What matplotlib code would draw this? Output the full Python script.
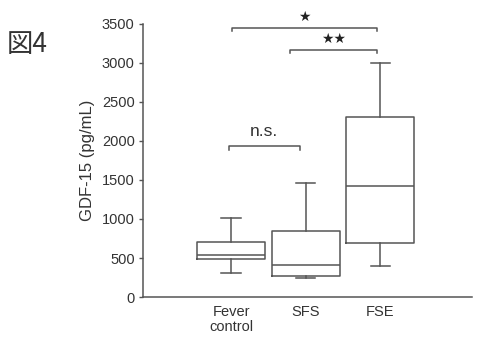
import matplotlib
matplotlib.use("Agg")
import matplotlib.pyplot as plt

# ---------- data ----------
groups = ["Fever\ncontrol", "SFS", "FSE"]
whislo = [310, 245, 400]
q1 = [487, 270, 692]
med = [538, 410, 1423]
q3 = [705, 846, 2308]
whishi = [1013, 1462, 3000]
yticks = [0, 500, 1000, 1500, 2000, 2500, 3000, 3500]

# significance brackets: (x_start, x_end, y, label)
brackets = [(0.97, 1.92, 1936, "n.s."), (1.79, 2.96, 3167, "★★"), (1.01, 2.96, 3449, "★")]
# --------------------------

LINE = "#555555"
TXT = "#333333"
plt.rcParams['font.family'] = ['Liberation Sans', 'DejaVu Sans']

fig = plt.figure(figsize=(4.89, 3.38), dpi=100)
ax = fig.add_axes([0.2924, 0.1213, 0.6728, 0.8077])

stats = []
for i in range(len(groups)):
    stats.append(dict(whislo=whislo[i], q1=q1[i], med=med[i], q3=q3[i], whishi=whishi[i], fliers=[]))

lp = dict(color=LINE, linewidth=1.1)
ax.bxp(stats, positions=[1, 2, 3], widths=0.91, capwidths=0.26, showfliers=False,
       boxprops=lp, medianprops=lp, whiskerprops=lp, capprops=lp)

ax.set_xlim(-0.18, 4.23)
ax.set_ylim(0, 3500)
ax.set_yticks(yticks)
ax.set_xticks([1, 2, 3])
ax.set_xticklabels(groups, fontsize=10.5, color=TXT, linespacing=1.1)
ax.tick_params(axis='x', length=0, pad=6)
ax.tick_params(axis='y', length=3, width=1, color=LINE, labelsize=10.5, labelcolor=TXT, pad=3)
ax.set_ylabel("GDF-15 (pg/mL)", fontsize=12, color=TXT, labelpad=5)

for s in ["top", "right"]:
    ax.spines[s].set_visible(False)
for s in ["left", "bottom"]:
    ax.spines[s].set_color(LINE)
    ax.spines[s].set_linewidth(1.1)

for x0, x1, y, lab in brackets:
    ax.plot([x0, x0, x1, x1], [y - 45, y, y, y - 45], color=LINE, lw=1.1, clip_on=False)
    if lab == "n.s.":
        ax.text((x0 + x1) / 2, y + 90, lab, ha='center', va='bottom', fontsize=12.5, color=TXT)
    else:
        ax.text((x0 + x1) / 2, y + 50, lab, ha='center', va='bottom', fontsize=10, color="#222222",
                family='DejaVu Sans', clip_on=False)

fig.text(0.014, 0.867, "図4", fontsize=19, va='center', ha='left', color=TXT,
         family=['Noto Sans CJK JP', 'DejaVu Sans'])

fig.savefig("out.png", dpi=100)
